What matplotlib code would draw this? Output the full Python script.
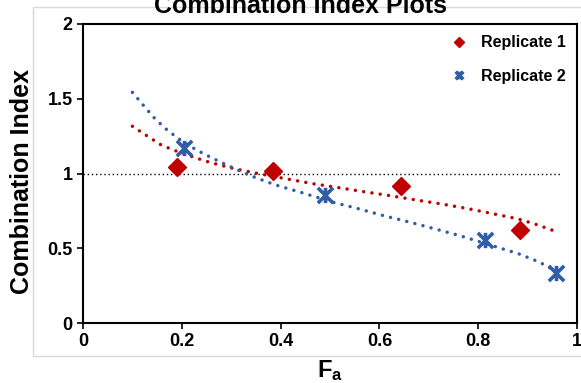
import matplotlib
matplotlib.use("Agg")
import matplotlib.pyplot as plt
from matplotlib.path import Path
from matplotlib.patches import Rectangle

plt.rcParams['font.family'] = ['Liberation Sans', 'DejaVu Sans']
plt.rcParams['font.weight'] = 'bold'
plt.rcParams['mathtext.fontset'] = 'custom'
plt.rcParams['mathtext.bf'] = 'Liberation Sans:bold'
plt.rcParams['mathtext.rm'] = 'Liberation Sans:bold'

# measured points
rep1_fa = [0.191, 0.384, 0.643, 0.884]
rep1_ci = [1.046, 1.015, 0.914, 0.620]
rep2_fa = [0.204, 0.490, 0.814, 0.957]
rep2_ci = [1.168, 0.858, 0.555, 0.332]

# fitted curves
fit1_fa = [0.100, 0.130, 0.159, 0.192, 0.225, 0.259, 0.309, 0.362, 0.414, 0.465,
           0.518, 0.569, 0.621, 0.674, 0.726, 0.779, 0.830, 0.881, 0.915, 0.949, 0.962]
fit1_ci = [1.316, 1.251, 1.189, 1.146, 1.108, 1.072, 1.030, 0.995, 0.963, 0.932,
           0.905, 0.878, 0.852, 0.823, 0.796, 0.765, 0.731, 0.696, 0.662, 0.622, 0.591]
fit2_fa = [0.100, 0.123, 0.146, 0.171, 0.200, 0.230, 0.261, 0.292, 0.341, 0.390,
           0.441, 0.507, 0.559, 0.611, 0.662, 0.713, 0.763, 0.831, 0.881, 0.915, 0.932, 0.960]
fit2_ci = [1.543, 1.453, 1.365, 1.289, 1.217, 1.157, 1.104, 1.055, 0.983, 0.923,
           0.874, 0.807, 0.763, 0.716, 0.674, 0.629, 0.584, 0.515, 0.464, 0.419, 0.393, 0.341]

ref_fa = [0.0, 0.966]
ref_ci = [1.0, 1.0]

red = '#C00000'
blue = '#2F5DA8'

# excel style star marker: X with a vertical bar
star = Path([(-1, -1), (1, 1), (-1, 1), (1, -1), (0, -1), (0, 1)],
            [Path.MOVETO, Path.LINETO, Path.MOVETO, Path.LINETO, Path.MOVETO, Path.LINETO])

fig = plt.figure(figsize=(5.81, 3.83), dpi=100)
fig.patches.append(Rectangle((33 / 581, 1 - 356 / 383), 1.0, (356 - 7) / 383,
                             transform=fig.transFigure, fill=False,
                             edgecolor='#d9d9d9', linewidth=1))
ax = fig.add_axes([83 / 581, 1 - 323 / 383, 494 / 581, 299 / 383])

ax.plot(ref_fa, ref_ci, color='black', linewidth=1, linestyle=(0, (1, 2)))
ax.plot(fit1_fa, fit1_ci, color=red, linewidth=2.5, linestyle=(0, (0.01, 2.4)),
        dash_capstyle='round')
ax.plot(fit2_fa, fit2_ci, color=blue, linewidth=2.5, linestyle=(0, (0.01, 2.4)),
        dash_capstyle='round')
ax.plot(rep1_fa, rep1_ci, linestyle='none', marker='D', markersize=9.5,
        color=red, label='Replicate 1')
ax.plot(rep2_fa, rep2_ci, linestyle='none', marker=star, markersize=11,
        markeredgewidth=2.6, color=blue, label='Replicate 2')

ax.set_xlim(0, 1)
ax.set_ylim(0, 2)
ax.set_xticks([0, 0.2, 0.4, 0.6, 0.8, 1])
ax.set_xticklabels(['0', '0.2', '0.4', '0.6', '0.8', '1'])
ax.set_yticks([0, 0.5, 1, 1.5, 2])
ax.set_yticklabels(['0', '0.5', '1', '1.5', '2'])
ax.tick_params(labelsize=13, width=1.2, length=4, direction='out')
for s in ax.spines.values():
    s.set_linewidth(1.5)

# axis labels placed in figure pixels to match the original layout
fig.text(22 / 581, 1 - 182 / 383, 'Combination Index', fontsize=18,
         fontweight='bold', rotation=90, ha='center', va='center')
fig.text(330 / 581, 1 - 377 / 383, r'$\mathbf{F_a}$', fontsize=17,
         ha='center', va='baseline')

fig.text(300 / 581, 1 - 13 / 383, 'Combination Index Plots', fontsize=18,
         fontweight='bold', ha='center', va='baseline')

leg = ax.legend(loc='upper right', frameon=False, fontsize=11.5, markerscale=0.5,
                labelspacing=1.15, handlelength=1.2, handletextpad=0.8,
                borderaxespad=0.3)

fig.savefig('out.png', dpi=100)
